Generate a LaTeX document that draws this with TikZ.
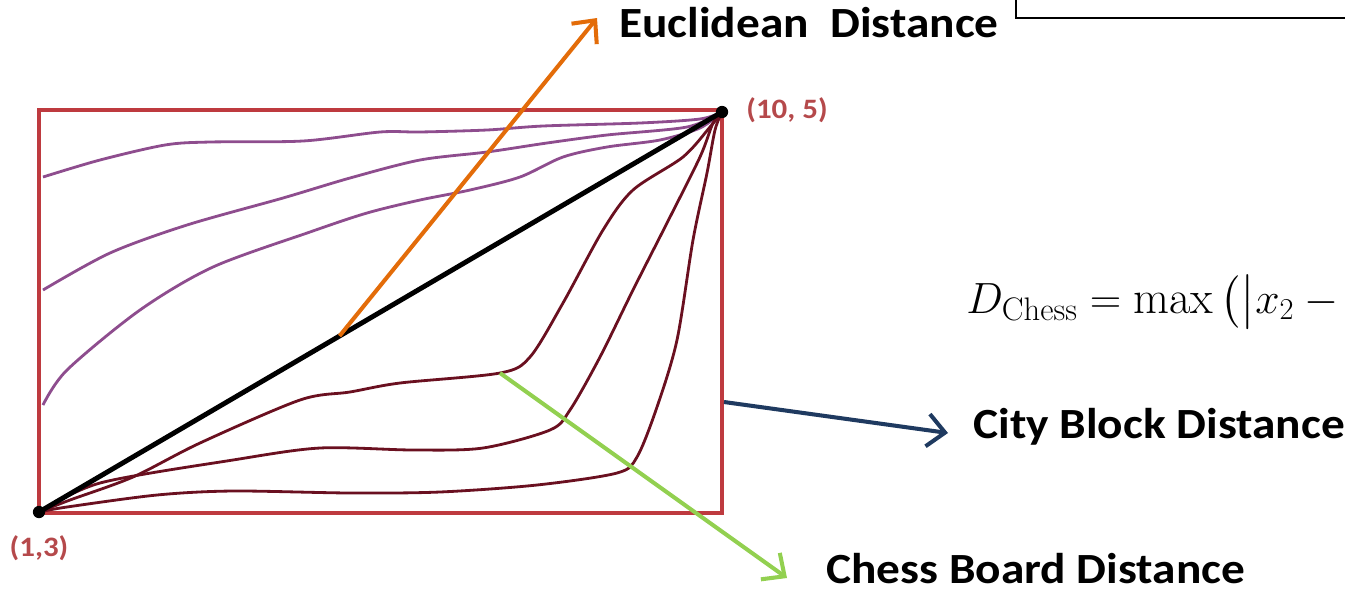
\documentclass[tikz,border=0pt]{standalone}
\usepackage{amsmath}
\usepackage{fontspec}
\newfontfamily\calib[FakeStretch=1.1]{Carlito}
\usetikzlibrary{arrows.meta,calc}
\definecolor{rectred}{HTML}{BE3A3F}
\definecolor{lblred}{HTML}{B5494B}
\definecolor{purp}{HTML}{8E4D8E}
\definecolor{dred}{HTML}{6A1020}
\definecolor{orng}{HTML}{E36C09}
\definecolor{grn}{HTML}{92D050}
\definecolor{navy}{HTML}{1F3A60}
\tikzset{
  lbl/.style={font=\calib\fontsize{24.5}{28}\selectfont\bfseries, anchor=base west, inner sep=0pt},
  ptlbl/.style={font=\calib\fontsize{16}{18}\selectfont\bfseries, text=lblred, inner sep=0pt},
  pcurve/.style={draw=purp, line width=1.6pt, line join=round},
  dcurve/.style={draw=dred, line width=1.6pt, line join=round},
  arr/.style={line width=2.3pt, -{Straight Barb[length=3.5mm,width=6.5mm]}},
  dot/.style={circle, fill=black, inner sep=0pt, minimum size=7pt}
}
\begin{document}
\begin{tikzpicture}[x=0.02cm, y=-0.02cm]
\useasboundingbox (0,0) rectangle (1345,589);
\clip (0,0) rectangle (1345,589);
% top-right box fragment
\draw[line width=1.2pt] (1016,-5) -- (1016,18) -- (1360,18);
% rectangle
\draw[rectred, line width=2.8pt] (39,110) rectangle (722,513);
\coordinate (A) at (39,512);
\coordinate (B) at (722,112);
% purple curves
\draw[pcurve] plot[smooth, tension=0.5] coordinates {(43,177) (100,160) (165,145) (210,142) (303,141) (380,132) (420,132) (487,130) (543,126) (640,123) (700,119) (B)};
\draw[pcurve] plot[smooth, tension=0.5] coordinates {(43,290) (110,253) (187,225) (283,198) (350,178) (420,160) (487,152) (547,143) (607,135) (687,127) (B)};
\draw[pcurve] plot[smooth, tension=0.5] coordinates {(43,405) (67,370) (140,310) (213,267) (310,232) (367,213) (420,200) (470,190) (520,177) (563,157) (607,147) (660,140) (700,128) (B)};
% dark red curves
\draw[dcurve] plot[smooth, tension=0.5] coordinates {(A) (70,500) (133,477) (200,443) (300,400) (350,392) (400,383) (500,373) (530,357) (563,303) (603,230) (633,190) (683,157) (710,127) (B)};
\draw[dcurve] plot[smooth, tension=0.5] coordinates {(A) (100,483) (233,460) (320,448) (413,450) (483,448) (550,430) (570,410) (600,357) (633,290) (667,223) (700,157) (713,123) (B)};
\draw[dcurve] plot[smooth, tension=0.5] coordinates {(A) (67,507) (157,495) (233,491) (350,493) (440,492) (537,485) (617,473) (637,457) (657,407) (677,340) (693,240) (707,173) (715,130) (B)};
% euclidean line
\draw[line width=2.8pt] (A) -- (B);
\node[dot] (pA) at (A) {};
\node[dot] (pB) at (B) {};
\node[ptlbl] (lA) at (39,548) {(1,3)};
\node[ptlbl, anchor=west] (lB) at (746,110) {(10, 5)};
% labels
\node[lbl] (euc) at (619,37) {Euclidean\ \ Distance};
\node[lbl] (city) at (973,438) {City Block Distance};
\node[lbl] (chess) at (826,583) {Chess Board Distance};
\node[anchor=base west, inner sep=0pt, font=\fontsize{26.5}{31}\selectfont] (form) at (966,313)
  {$D_{\mathrm{Chess}} = \max\,\bigl(\bigl|x_2 - x_1\bigr|, \bigl|y_2 - y_1\bigr|\bigr)$};
% arrows
\coordinate (e0) at ($(A)!0.44!(B)$);
\coordinate (e1) at (597,18);
\coordinate (g0) at (500,373);
\coordinate (g1) at (787,578);
\coordinate (c0) at (724,402);
\coordinate (c1) at (948,433);
\draw[arr, orng] (e0) -- (e1);
\draw[arr, grn] (g0) -- (g1);
\draw[arr, navy] (c0) -- (c1);
\end{tikzpicture}
\end{document}
